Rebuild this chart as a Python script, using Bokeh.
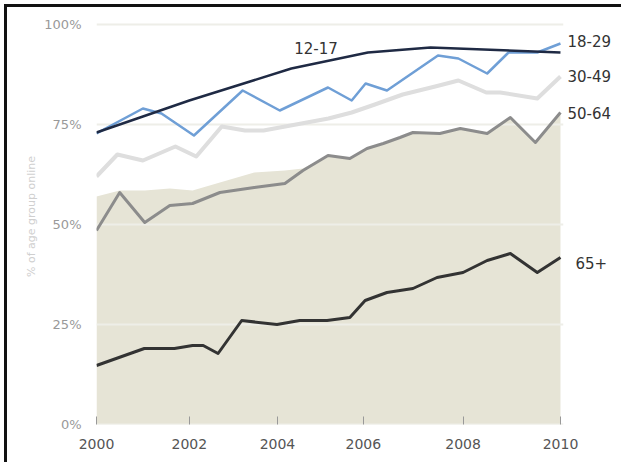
from bokeh.plotting import figure
from bokeh.models import Label, FixedTicker, Range1d
from bokeh.embed import file_html
from bokeh.resources import INLINE

# Survey dates (fractional years) and share of each age group online (%)
teen_years = [2000.0, 2002.0, 2004.2, 2005.85, 2007.2, 2010.0]
teen_pct = [73, 81, 89, 93, 94.25, 93]

young_years = [2000.0, 2001.0, 2001.4, 2002.1, 2003.15, 2003.95, 2004.99, 2005.5,
               2005.8, 2006.26, 2007.36, 2007.8, 2008.42, 2008.88, 2009.5, 2010.0]
young_pct = [72.75, 79, 77.75, 72.25, 83.5, 78.5, 84.25, 81,
             85.25, 83.5, 92.25, 91.5, 87.75, 93, 93, 95.25]

mid_years = [2000.0, 2000.45, 2001.0, 2001.7, 2002.15, 2002.7, 2003.2, 2003.6, 2004.3,
             2005.0, 2005.5, 2006.0, 2006.6, 2007.3, 2007.8, 2008.4, 2008.7, 2009.5, 2010.0]
mid_pct = [62, 67.5, 66, 69.5, 67, 74.5, 73.5, 73.5, 75,
           76.5, 78, 80, 82.5, 84.5, 86, 83, 83, 81.5, 87]

older_years = [2000.0, 2000.5, 2001.04, 2001.58, 2002.07, 2002.66, 2003.4, 2004.06, 2004.45,
               2004.99, 2005.46, 2005.83, 2006.18, 2006.54, 2006.82, 2007.4, 2007.84,
               2008.42, 2008.92, 2009.46, 2010.0]
older_pct = [48.5, 58, 50.5, 54.75, 55.25, 58, 59.25, 60.25, 63.5,
             67.25, 66.5, 69, 70.25, 71.75, 73, 72.75, 74,
             72.75, 76.75, 70.5, 78]
# upper edge of the shaded band behind the 50-64 series
band_pct = [57, 58.5, 58.5, 59, 58.5, 60.5, 63, 63.5, 64,
            67.25, 66.5, 69, 70.25, 71.75, 73, 72.75, 74,
            72.75, 76.75, 70.5, 78]

senior_years = [2000.0, 2001.03, 2001.68, 2002.07, 2002.3, 2002.62, 2003.13, 2003.89,
                2004.38, 2004.97, 2005.46, 2005.79, 2006.26, 2006.82, 2007.34, 2007.9,
                2008.42, 2008.92, 2009.5, 2010.0]
senior_pct = [14.75, 19, 19, 19.75, 19.75, 17.75, 26, 25,
              26, 26, 26.75, 31, 33, 34, 36.75, 38,
              41, 42.75, 38, 41.75]

group_names = ["12-17", "18-29", "30-49", "50-64", "65+"]

xtick_labels = ["2000", "2002", "2004", "2006", "2008", "2010"]
xtick_at = [2000.0, 2002.0, 2003.9, 2005.75, 2007.9, 2010.0]
ytick_values = [0, 25, 50, 75, 100]
ytick_labels = ["0%", "25%", "50%", "75%", "100%"]

FONT = "DejaVu Sans"
X0, X1 = 2000.0, 2010.0

p = figure(
    width=617, height=458,
    x_range=Range1d(X0, 2011.38), y_range=Range1d(0, 104),
    output_backend="svg", toolbar_location=None,
    min_border_left=89, min_border_right=0, min_border_top=1, min_border_bottom=41,
    background_fill_color="white", border_fill_color="white",
    outline_line_color=None,
    margin=(4, 0, 0, 4),
    styles={"border-left": "3px solid #111", "border-top": "3px solid #111"},
)
p.xgrid.grid_line_color = None
p.ygrid.grid_line_color = None

# shaded band under the 50-64 series
p.varea(x=older_years, y1=[0] * len(older_years), y2=band_pct,
        fill_color="#e6e4d6", fill_alpha=1.0)

# horizontal guides across the data span only
p.segment(x0=[X0] * len(ytick_values), x1=[X1 + 0.06] * len(ytick_values),
          y0=ytick_values, y1=ytick_values, line_color="#eeeee8", line_width=2)

# series lines
p.line(mid_years, mid_pct, line_color="#dedede", line_width=4, line_join="round")
p.line(older_years, older_pct, line_color="#8c8c8c", line_width=3, line_join="round")
p.line(senior_years, senior_pct, line_color="#333333", line_width=3, line_join="round")
p.line(young_years, young_pct, line_color="#6f9fd6", line_width=2.5, line_join="round")
p.line(teen_years, teen_pct, line_color="#1f2a44", line_width=2.5, line_join="round")

# axes
p.xaxis.ticker = FixedTicker(ticks=xtick_at)
p.xaxis.major_label_overrides = {t: s for t, s in zip(xtick_at, xtick_labels)}
p.xaxis.major_tick_in = 8
p.xaxis.major_tick_out = 0
p.xaxis.major_tick_line_color = "#999999"
p.xaxis.minor_tick_line_color = None
p.xaxis.axis_line_color = None
p.xaxis.major_label_text_font = FONT
p.xaxis.major_label_text_font_size = "14px"
p.xaxis.major_label_text_color = "#555555"
p.xaxis.major_label_standoff = 14

p.yaxis.ticker = FixedTicker(ticks=ytick_values)
p.yaxis.major_label_overrides = {t: s for t, s in zip(ytick_values, ytick_labels)}
p.yaxis.axis_line_color = None
p.yaxis.major_tick_line_color = None
p.yaxis.minor_tick_line_color = None
p.yaxis.major_label_text_font = FONT
p.yaxis.major_label_text_font_size = "13px"
p.yaxis.major_label_text_color = "#999999"
p.yaxis.major_label_standoff = 9
p.yaxis.axis_label = "% of age group online"
p.yaxis.axis_label_text_font = FONT
p.yaxis.axis_label_text_font_size = "11px"
p.yaxis.axis_label_text_font_style = "normal"
p.yaxis.axis_label_text_color = "#cfcfcf"
p.yaxis.axis_label_standoff = 3

# series name labels
label_style = dict(text_font=FONT, text_font_size="15px", text_color="#333333",
                   text_baseline="middle")
p.add_layout(Label(x=2004.73, y=94.25, text=group_names[0], text_align="center", **label_style))
end_labels = [
    (group_names[1], young_pct[-1] + 0.75),
    (group_names[2], mid_pct[-1] + 0.25),
    (group_names[3], older_pct[-1]),
    (group_names[4], senior_pct[-1] - 1.25),
]
for name, yv in end_labels:
    off = 15 if name == "65+" else 7
    p.add_layout(Label(x=X1, y=yv, x_offset=off, text=name, text_align="left", **label_style))

open("out.html", "w").write(file_html(p, INLINE))
